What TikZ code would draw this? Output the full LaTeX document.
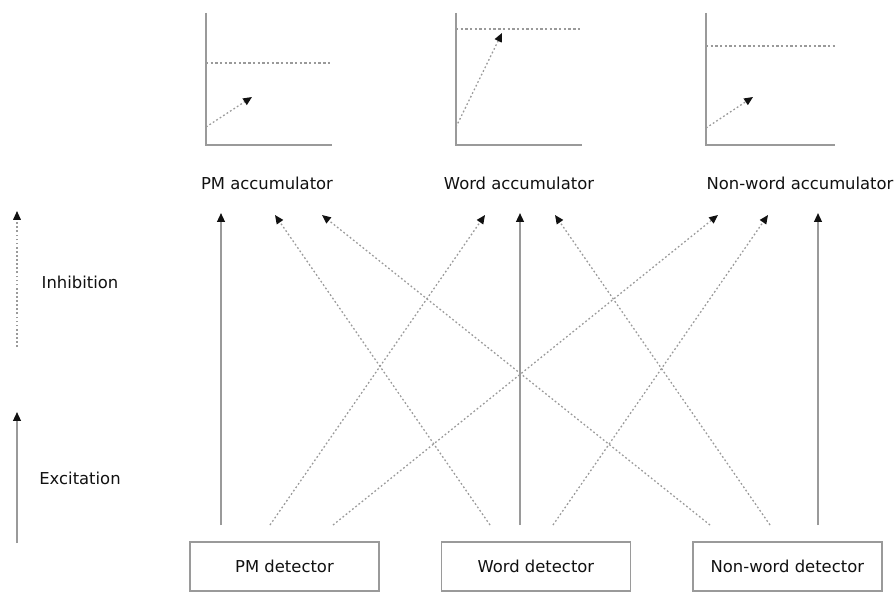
\documentclass[tikz,border=0pt]{standalone}
\usepackage{fontspec}
\usepackage{tikz}
\setmainfont{DejaVu Sans}
\usetikzlibrary{arrows.meta, positioning}
\definecolor{linegray}{HTML}{9a9a9a}
\definecolor{textgray}{HTML}{111111}
\definecolor{tipgray}{HTML}{111111}

\begin{document}
\begin{tikzpicture}[
    x=0.03cm, y=-0.03cm,
    detector/.style={rectangle, draw=linegray, line width=1.2pt, minimum width=5.67cm, minimum height=1.47cm, font=\fontsize{14}{16}\selectfont, text=textgray},
    txt/.style={font=\fontsize{14}{16}\selectfont, text=textgray, inner sep=0pt},
    axis/.style={draw=linegray, line width=2pt},
    threshold/.style={draw=linegray, line width=1pt, dash pattern=on 2pt off 2pt},
    excite/.style={draw=linegray, line width=1.5pt, -{Triangle[length=7.5pt, width=6.5pt, color=tipgray]}},
    inhibit/.style={draw=linegray, line width=1.1pt, dash pattern=on 1.5pt off 2pt, -{Triangle[length=7.5pt, width=6.5pt, color=tipgray]}}
]
\useasboundingbox (0,0) rectangle (895,592);

% Detectors
\node[detector] (pmdet) at (284.5,566.5) {PM detector};
\node[detector, right=1.83cm of pmdet] (worddet) {Word detector};
\node[detector, right=1.83cm of worddet] (nwdet) {Non-word detector};

% Accumulator labels
\node[txt] (pmacc) at (267,183) {PM accumulator};
\node[txt] (wordacc) at (519,183) {Word accumulator};
\node[txt] (nwacc) at (800,183) {Non-word accumulator};

% Accumulator graphs
\coordinate (pmorigin) at (206,145);
\coordinate (wordorigin) at (456,145);
\coordinate (nworigin) at (706,145);
\draw[axis] (206,13) -- (pmorigin) -- (332,145);
\draw[axis] (456,13) -- (wordorigin) -- (582,145);
\draw[axis] (706,13) -- (nworigin) -- (835,145);
\draw[threshold] (206,63) -- (332,63);
\draw[threshold] (456,29) -- (582,29);
\draw[threshold] (706,46) -- (835,46);
\coordinate (pmstart) at (206,127);
\coordinate (pmlevel) at (252,97);
\coordinate (wordstart) at (456,127);
\coordinate (wordlevel) at (502,33);
\coordinate (nwstart) at (706,128);
\coordinate (nwlevel) at (753,97);
\draw[inhibit] (pmstart) -- (pmlevel);
\draw[inhibit] (wordstart) -- (wordlevel);
\draw[inhibit] (nwstart) -- (nwlevel);

% Connector ends below the accumulators
\coordinate (pmtop-ex) at (221,213);
\coordinate (pmtop-w) at (275,215);
\coordinate (pmtop-n) at (322,215);
\coordinate (wordtop-p) at (485,215);
\coordinate (wordtop-ex) at (520,213);
\coordinate (wordtop-n) at (555,215);
\coordinate (nwtop-p) at (718,215);
\coordinate (nwtop-w) at (768,215);
\coordinate (nwtop-ex) at (818,213);

% Connector starts above the detectors
\coordinate (pmbot-ex) at (221,525);
\coordinate (pmbot-w) at (270,525);
\coordinate (pmbot-n) at (333,525);
\coordinate (wordbot-p) at (490,525);
\coordinate (wordbot-ex) at (520,525);
\coordinate (wordbot-n) at (553,525);
\coordinate (nwbot-p) at (710,525);
\coordinate (nwbot-w) at (770,525);
\coordinate (nwbot-ex) at (818,525);

% Excitation
\draw[excite] (pmbot-ex) -- (pmtop-ex);
\draw[excite] (wordbot-ex) -- (wordtop-ex);
\draw[excite] (nwbot-ex) -- (nwtop-ex);

% Inhibition
\draw[inhibit] (pmbot-w) -- (wordtop-p);
\draw[inhibit] (pmbot-n) -- (nwtop-p);
\draw[inhibit] (wordbot-p) -- (pmtop-w);
\draw[inhibit] (wordbot-n) -- (nwtop-w);
\draw[inhibit] (nwbot-p) -- (pmtop-n);
\draw[inhibit] (nwbot-w) -- (wordtop-n);

% Legend
\coordinate (inhbot) at (17,347);
\coordinate (inhtop) at (17,211);
\coordinate (excbot) at (17,543);
\coordinate (exctop) at (17,412);
\draw[inhibit] (inhbot) -- (inhtop);
\draw[excite] (excbot) -- (exctop);
\node[txt] (inhlabel) at (80,282) {Inhibition};
\node[txt] (exclabel) at (80,478) {Excitation};

\end{tikzpicture}
\end{document}
